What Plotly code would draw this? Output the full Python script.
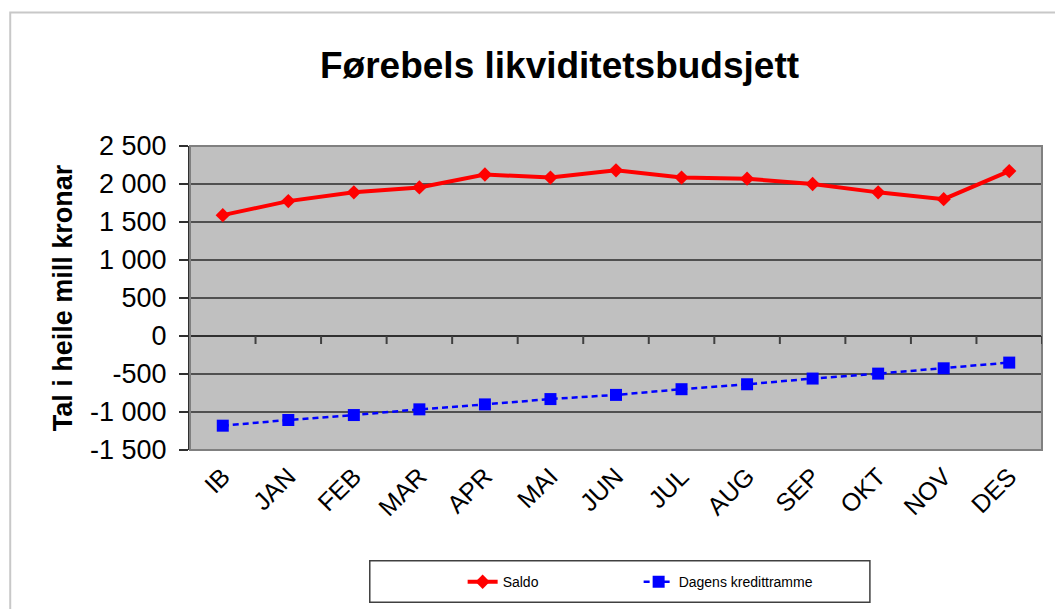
import plotly.graph_objects as go

categories = ["IB", "JAN", "FEB", "MAR", "APR", "MAI", "JUN", "JUL", "AUG", "SEP", "OKT", "NOV", "DES"]
saldo = [1590, 1775, 1890, 1955, 2125, 2085, 2180, 2085, 2070, 2000, 1890, 1800, 2170]
kredittramme = [-1180, -1105, -1040, -965, -900, -830, -775, -700, -635, -560, -495, -425, -350]
y_tickvals = [2500, 2000, 1500, 1000, 500, 0, -500, -1000, -1500]
y_ticktext = ["2 500", "2 000", "1 500", "1 000", "500", "0", "-500", "-1 000", "-1 500"]

FONT = "Arial, Liberation Sans, sans-serif"

fig = go.Figure()
fig.add_trace(go.Scatter(
    x=categories, y=saldo, name="Saldo", mode="lines+markers",
    line=dict(color="#FF0000", width=4),
    marker=dict(symbol="diamond", size=11, color="#FF0000"),
))
fig.add_trace(go.Scatter(
    x=categories, y=kredittramme, name="Dagens kredittramme", mode="lines+markers",
    line=dict(color="#0000FF", width=2.5, dash="6px,4px"),
    marker=dict(symbol="square", size=12, color="#0000FF"),
))

shapes = []
# outer chart border
shapes.append(dict(type="rect", xref="paper", yref="paper", x0=-0.211, x1=1.2, y0=-0.7, y1=1.439,
                   line=dict(color="#C8C8C8", width=2), fillcolor="rgba(0,0,0,0)", layer="below"))
# plot area border
shapes.append(dict(type="rect", xref="paper", yref="paper", x0=0, x1=1, y0=0, y1=1,
                   line=dict(color="#808080", width=2), fillcolor="rgba(0,0,0,0)"))
# tick marks on the zero line at category boundaries
for i in range(1, len(categories) + 1):
    shapes.append(dict(type="line", xref="x", yref="y", ysizemode="pixel", yanchor=0,
                       x0=i - 0.5, x1=i - 0.5, y0=0, y1=-8,
                       line=dict(color="#404040", width=2)))
# legend box
shapes.append(dict(type="rect", xref="paper", yref="paper", x0=0.211, x1=0.798, y0=-0.364, y1=-0.501,
                   line=dict(color="#404040", width=1.5), fillcolor="white"))

fig.update_layout(
    width=1055, height=609,
    margin=dict(l=190, r=13, t=146, b=158),
    paper_bgcolor="white", plot_bgcolor="#C0C0C0",
    font=dict(family=FONT, color="black"),
    showlegend=True,
    legend=dict(orientation="h", x=0.32, xanchor="left", y=-0.43, yanchor="middle",
                bgcolor="rgba(0,0,0,0)", font=dict(size=14, family=FONT),
                entrywidth=131, itemwidth=30),
    shapes=shapes,
    annotations=[dict(text="<b>Førebels likviditetsbudsjett</b>", xref="paper", yref="paper",
                      x=0.434, y=1.265, xanchor="center", yanchor="middle", showarrow=False,
                      font=dict(size=37, family=FONT, color="black"))],
    xaxis=dict(type="category", tickangle=-45, tickfont=dict(size=25, family=FONT),
               showgrid=False, zeroline=False, showline=False, ticks="",
               ticklabelstandoff=6,
               range=[-0.5, len(categories) - 0.5]),
    yaxis=dict(range=[-1500, 2500], tickvals=y_tickvals, ticktext=y_ticktext,
               tickfont=dict(size=27, family=FONT),
               showgrid=True, gridcolor="#505050", gridwidth=1.5,
               zeroline=True, zerolinecolor="#303030", zerolinewidth=2,
               showline=True, linecolor="#303030", linewidth=2,
               ticks="outside", ticklen=9, tickcolor="#303030", tickwidth=1.5,
               ticklabelstandoff=7,
               title=dict(text="<b>Tal i heile mill kronar</b>", font=dict(size=27, family=FONT),
                          standoff=10)),
)

fig.write_html("out.html", config={"displayModeBar": False},
               post_script="document.body.style.margin='0';")
